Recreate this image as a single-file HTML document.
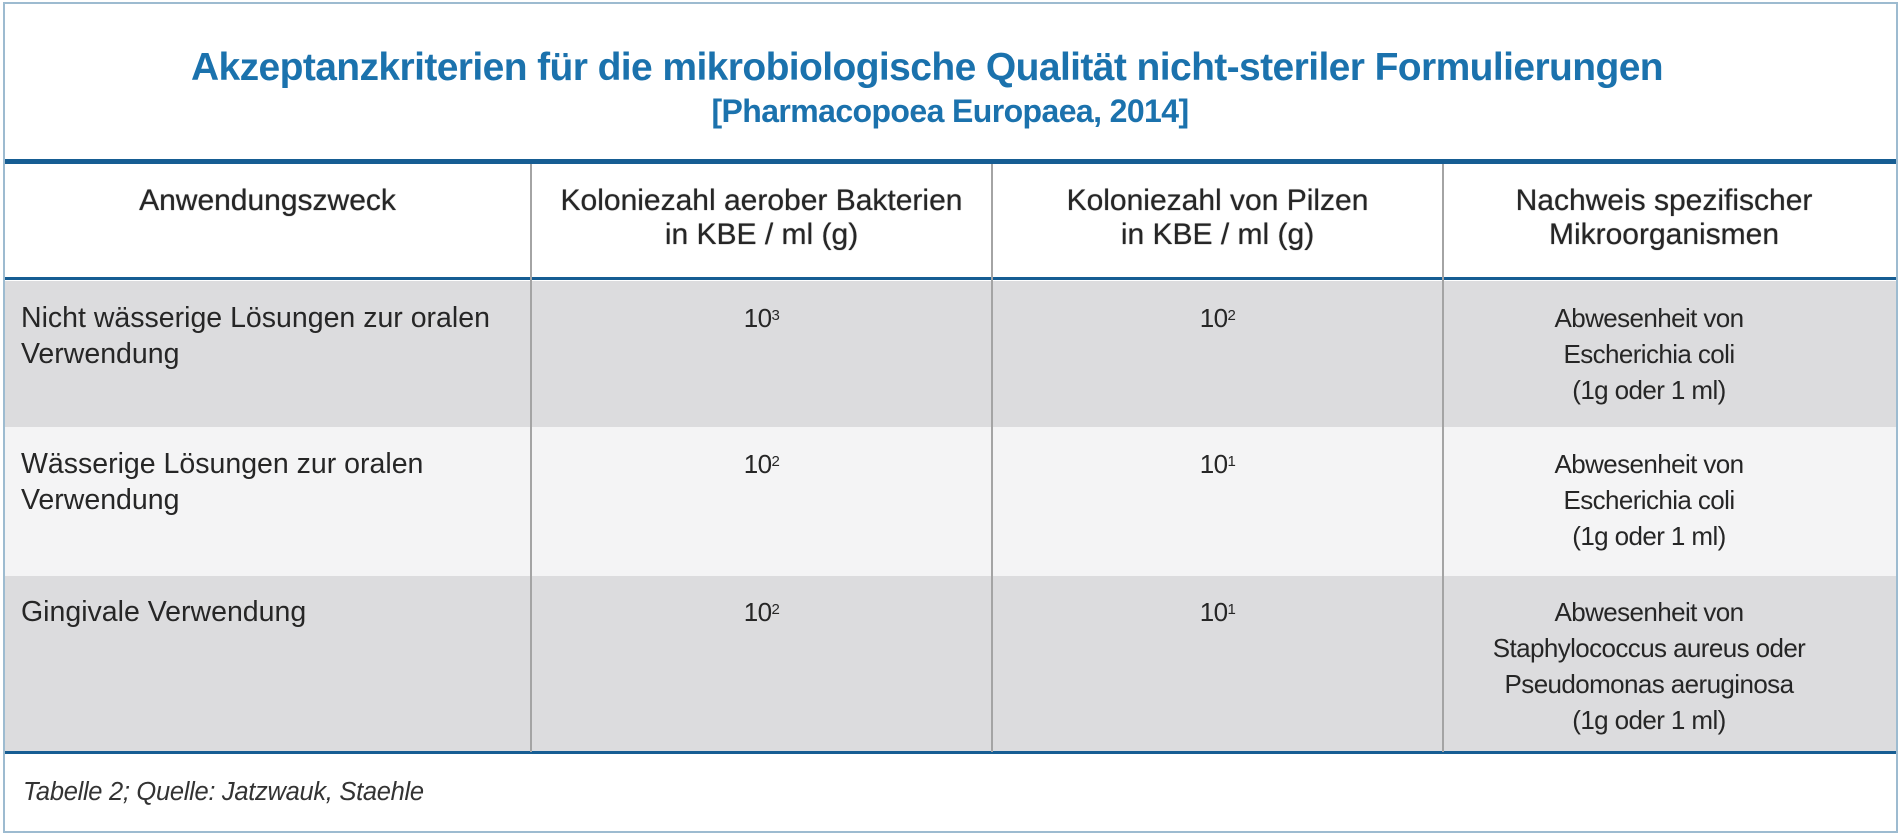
<!DOCTYPE html>
<html><head><meta charset="utf-8"><style>
*{margin:0;padding:0;box-sizing:border-box}
body{width:1900px;height:839px;background:#fff;position:relative;overflow:hidden;font-family:"Liberation Sans",sans-serif;color:#2a2a2a}
.abs{position:absolute}
.frame{left:3px;top:2px;width:1895px;height:831px;border:2px solid #9dbbd0}
.title{left:0;width:1900px;text-align:center;color:#1b72ad;font-weight:bold;letter-spacing:-0.6px}
.hl{left:5px;width:1891px;background:#165d93}
.vl{width:2px;background:#a4a4a4}
.row{left:5px;width:1891px}
.t{font-size:26px;line-height:36px;letter-spacing:-0.6px;color:#262626}
.c{text-align:center}
.h{font-size:30px;line-height:34px;color:#262626;text-align:center;letter-spacing:0px;text-shadow:0 0 0.8px #333}
sup{font-size:15px;vertical-align:top;position:relative;top:-2px}
</style></head><body>
<div class="abs frame"></div>
<div class="abs title" style="top:46px;left:-23px;font-size:39px">Akzeptanzkriterien für die mikrobiologische Qualität nicht-steriler Formulierungen</div>
<div class="abs title" style="top:93px;font-size:32px">[Pharmacopoea Europaea, 2014]</div>
<div class="abs hl" style="top:159px;height:5px"></div>
<div class="abs row" style="top:281px;height:146px;background:#dcdcde"></div>
<div class="abs row" style="top:427px;height:149px;background:#f4f4f5"></div>
<div class="abs row" style="top:576px;height:176px;background:#dcdcde"></div>
<div class="abs hl" style="top:277px;height:3px"></div>
<div class="abs hl" style="top:751px;height:3px"></div>
<div class="abs vl" style="left:530px;top:164px;height:588px"></div>
<div class="abs vl" style="left:991px;top:164px;height:588px"></div>
<div class="abs vl" style="left:1442px;top:164px;height:588px"></div>

<div class="abs h" style="left:5px;width:525px;top:184px">Anwendungszweck</div>
<div class="abs h" style="left:532px;width:459px;top:184px">Koloniezahl aerober Bakterien<br>in KBE / ml (g)</div>
<div class="abs h" style="left:993px;width:449px;top:184px">Koloniezahl von Pilzen<br>in KBE / ml (g)</div>
<div class="abs h" style="left:1444px;width:440px;top:184px">Nachweis spezifischer<br>Mikroorganismen</div>

<div class="abs t" style="left:21px;top:300px;font-size:28.5px;letter-spacing:0">Nicht wässerige Lösungen zur oralen<br>Verwendung</div>
<div class="abs t c" style="left:532px;width:459px;top:300px">10<sup>3</sup></div>
<div class="abs t c" style="left:993px;width:449px;top:300px">10<sup>2</sup></div>
<div class="abs t c" style="left:1444px;width:410px;top:300px">Abwesenheit von<br>Escherichia coli<br>(1g oder 1 ml)</div>

<div class="abs t" style="left:21px;top:446px;font-size:28.5px;letter-spacing:0">Wässerige Lösungen zur oralen<br>Verwendung</div>
<div class="abs t c" style="left:532px;width:459px;top:446px">10<sup>2</sup></div>
<div class="abs t c" style="left:993px;width:449px;top:446px">10<sup>1</sup></div>
<div class="abs t c" style="left:1444px;width:410px;top:446px">Abwesenheit von<br>Escherichia coli<br>(1g oder 1 ml)</div>

<div class="abs t" style="left:21px;top:594px;font-size:28.5px;letter-spacing:0">Gingivale Verwendung</div>
<div class="abs t c" style="left:532px;width:459px;top:594px">10<sup>2</sup></div>
<div class="abs t c" style="left:993px;width:449px;top:594px">10<sup>1</sup></div>
<div class="abs t c" style="left:1444px;width:410px;top:594px">Abwesenheit von<br>Staphylococcus aureus oder<br>Pseudomonas aeruginosa<br>(1g oder 1 ml)</div>

<div class="abs" style="left:23px;top:778px;font-size:25.5px;font-style:italic;color:#333;letter-spacing:-0.3px">Tabelle 2; Quelle: Jatzwauk, Staehle</div>
</body></html>
